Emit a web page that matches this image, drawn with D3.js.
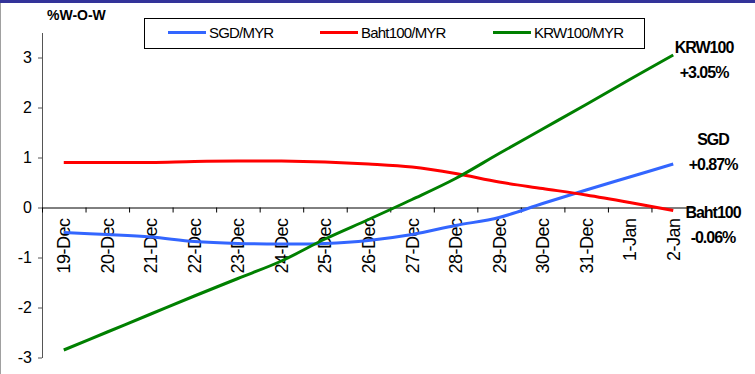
<!DOCTYPE html>
<html>
<head>
<meta charset="utf-8">
<script src="https://cdn.jsdelivr.net/npm/d3@7"></script>
<style>
  body { margin: 0; background: #fff; }
  svg { display: block; font-family: "Liberation Sans", Arial, sans-serif; }
</style>
</head>
<body>
<script>
// categories (week ending dates)
const dates = ["19-Dec","20-Dec","21-Dec","22-Dec","23-Dec","24-Dec","25-Dec","26-Dec",
               "27-Dec","28-Dec","29-Dec","30-Dec","31-Dec","1-Jan","2-Jan"];

// %W-O-W values
const sgd   = [-0.50,-0.54,-0.59,-0.68,-0.72,-0.73,-0.72,-0.66,-0.54,-0.36,-0.20,0.08,0.35,0.61,0.87];
const baht  = [0.90,0.90,0.90,0.92,0.93,0.93,0.91,0.87,0.81,0.68,0.51,0.38,0.25,0.10,-0.06];
const krw   = [-2.85,-2.49,-2.13,-1.77,-1.42,-1.07,-0.63,-0.24,0.16,0.58,1.08,1.57,2.06,2.56,3.05];

const yTicks = [-3,-2,-1,0,1,2,3];
const seriesNames = ["SGD/MYR","Baht100/MYR","KRW100/MYR"];
const seriesColors = ["#3366ff","#ff0000","#008000"];
const endLabels = [["SGD","+0.87%"],["Baht100","-0.06%"],["KRW100","+3.05%"]];

const W = 755, H = 374;
const svg = d3.select("body").append("svg")
   .attr("width", W)
   .attr("height", H);

// frame: top bar and left border
svg.append("rect").attr("x",0).attr("y",0).attr("width",W).attr("height",3).attr("fill","#333399");
svg.append("line").attr("x1",0.5).attr("x2",0.5).attr("y1",3).attr("y2",H)
   .attr("stroke","#a0a0a0").attr("stroke-width",1);

const x = d3.scaleBand()
   .domain(dates)
   .range([42, 695]);

const y = d3.scaleLinear()
   .domain([-3, 3.5])
   .range([357.5, 32.5]);

// Y axis
const yAxis = svg.append("g")
   .attr("transform","translate(42,0)")
   .call(d3.axisLeft(y).tickValues(yTicks).tickSize(4).tickSizeOuter(0).tickPadding(6)
         .tickFormat(d => String(d)));
yAxis.select(".domain").attr("stroke","#555");
yAxis.selectAll(".tick line").attr("stroke","#555");
yAxis.selectAll("text").style("font-size","16px").attr("fill","#000");

// X axis on the zero line
const xAxis = svg.append("g")
   .attr("transform","translate(0," + y(0) + ")")
   .call(d3.axisBottom(x).tickSize(0).tickSizeOuter(0));
xAxis.select(".domain").attr("stroke","#000");
xAxis.selectAll("text")
   .attr("transform","rotate(-90)")
   .attr("x", -11)
   .attr("y", 0)
   .attr("dy","0.36em")
   .style("text-anchor","end")
   .style("font-size","18px")
   .style("letter-spacing","-0.5px")
   .attr("fill","#000");

// tick marks at category boundaries
svg.append("g").selectAll("line")
   .data(dates)
   .enter()
   .append("line")
   .attr("x1", d => x(d) + 0.5)
   .attr("x2", d => x(d) + 0.5)
   .attr("y1", y(0))
   .attr("y2", y(0) + 5)
   .attr("stroke","#000");

// axis title
svg.append("text")
   .attr("x", 47)
   .attr("y", 20)
   .style("font-size","14px")
   .style("font-weight","bold")
   .text("%W-O-W");

// lines
const line = d3.line()
   .x((d, i) => x(dates[i]) + x.bandwidth()/2)
   .y(d => y(d))
   .curve(d3.curveCatmullRom);

[sgd, baht, krw].forEach((s, i) => {
  svg.append("path")
     .datum(s)
     .attr("fill","none")
     .attr("stroke", seriesColors[i])
     .attr("stroke-width",3)
     .attr("d", line);
});

// legend
svg.append("rect")
   .attr("x",144.5).attr("y",18.5).attr("width",500).attr("height",30)
   .attr("fill","#fff").attr("stroke","#000");
const legX = [168, 320, 493];
seriesNames.forEach((n, i) => {
  svg.append("line")
     .attr("x1", legX[i]).attr("x2", legX[i] + 38)
     .attr("y1", 32.5).attr("y2", 32.5)
     .attr("stroke", seriesColors[i]).attr("stroke-width",3);
  svg.append("text")
     .attr("x", legX[i] + 41)
     .attr("y", 38)
     .style("font-size","15px")
     .style("letter-spacing","-0.8px")
     .text(n);
});

// end-of-line labels
const labPos = [[713,145,170],[713,218,243],[704,53,78]];
endLabels.forEach((l, i) => {
  const t = svg.append("text")
     .attr("text-anchor","middle")
     .style("font-size","16px")
     .style("font-weight","bold")
     .style("letter-spacing","-1px");
  t.append("tspan").attr("x", labPos[i][0]).attr("y", labPos[i][1]).text(l[0]);
  t.append("tspan").attr("x", labPos[i][0]).attr("y", labPos[i][2]).text(l[1]);
});
</script>
</body>
</html>
